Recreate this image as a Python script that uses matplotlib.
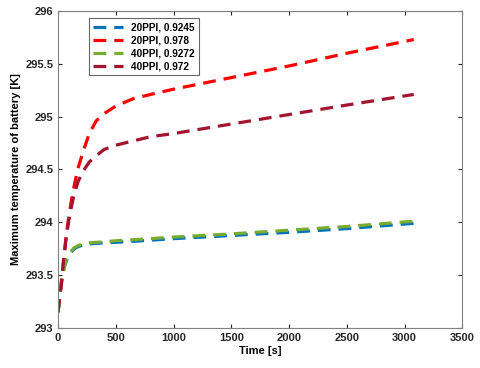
import numpy as np
import matplotlib.pyplot as plt

plt.rcParams['font.family'] = ['Liberation Sans', 'DejaVu Sans']
plt.rcParams['font.weight'] = 'bold'

# Tempo [s]
t = [0, 15, 30, 50, 70, 90, 110, 140, 175, 220, 270, 330, 400, 500, 650, 800,
     1000, 1500, 2000, 2500, 3080]

# Temperatura máxima da bateria [K]
T_20_09245 = [293.15, 293.30, 293.45, 293.56, 293.63, 293.68, 293.71, 293.75, 293.77, 293.785,
              293.795, 293.80, 293.805, 293.81, 293.82, 293.83, 293.845, 293.875, 293.905,
              293.94, 293.99]
T_20_0978 = [293.15, 293.30, 293.43, 293.67, 293.87, 294.03, 294.17, 294.35, 294.52, 294.68,
             294.84, 294.96, 295.03, 295.10, 295.17, 295.21, 295.26, 295.37, 295.48,
             295.60, 295.73]
T_40_09272 = [293.15, 293.30, 293.45, 293.56, 293.64, 293.69, 293.72, 293.76, 293.78, 293.795,
              293.805, 293.81, 293.815, 293.825, 293.835, 293.845, 293.86, 293.89, 293.925,
              293.96, 294.01]
T_40_0972 = [293.15, 293.30, 293.43, 293.66, 293.85, 294.00, 294.12, 294.27, 294.39, 294.49,
             294.57, 294.63, 294.69, 294.73, 294.77, 294.81, 294.84, 294.93, 295.02,
             295.11, 295.21]

rotulos = ['20PPI, 0.9245', '20PPI, 0.978', '40PPI, 0.9272', '40PPI, 0.972']
cores = ['#0072BD', '#FF0000', '#77AC30', '#A2142F']
series = [T_20_09245, T_20_0978, T_40_09272, T_40_0972]

fig = plt.figure(figsize=(4.8, 3.68), dpi=100)
ax = fig.add_axes([0.121, 0.109, 0.842, 0.861])

for y, c, lab in zip(series, cores, rotulos):
    ax.plot(t, y, '--', color=c, lw=2.3, dashes=(4, 2.5), label=lab)

ax.set_xlim(0, 3500)
ax.set_ylim(293, 296)
ax.set_xticks(np.arange(0, 3501, 500))
ax.set_yticks([293, 293.5, 294, 294.5, 295, 295.5, 296])
ax.set_yticklabels(['293', '293.5', '294', '294.5', '295', '295.5', '296'])
ax.tick_params(direction='in', labelsize=8, top=True, right=True, length=3, colors='#262626')
for s in ax.spines.values():
    s.set_color('#808080')

ax.set_xlabel('Time [s]', fontsize=8, fontweight='bold', labelpad=2)
ax.set_ylabel('Maximum temperature of battery [K]', fontsize=8, fontweight='bold', labelpad=3)

leg = ax.legend(loc='upper left', bbox_to_anchor=(0.077, 0.978), borderaxespad=0,
                fontsize=7.2, frameon=True, fancybox=False, edgecolor='#404040',
                handlelength=3, borderpad=0.4, labelspacing=0.3)
leg.get_frame().set_linewidth(0.8)

plt.savefig('out.png', dpi=100)
